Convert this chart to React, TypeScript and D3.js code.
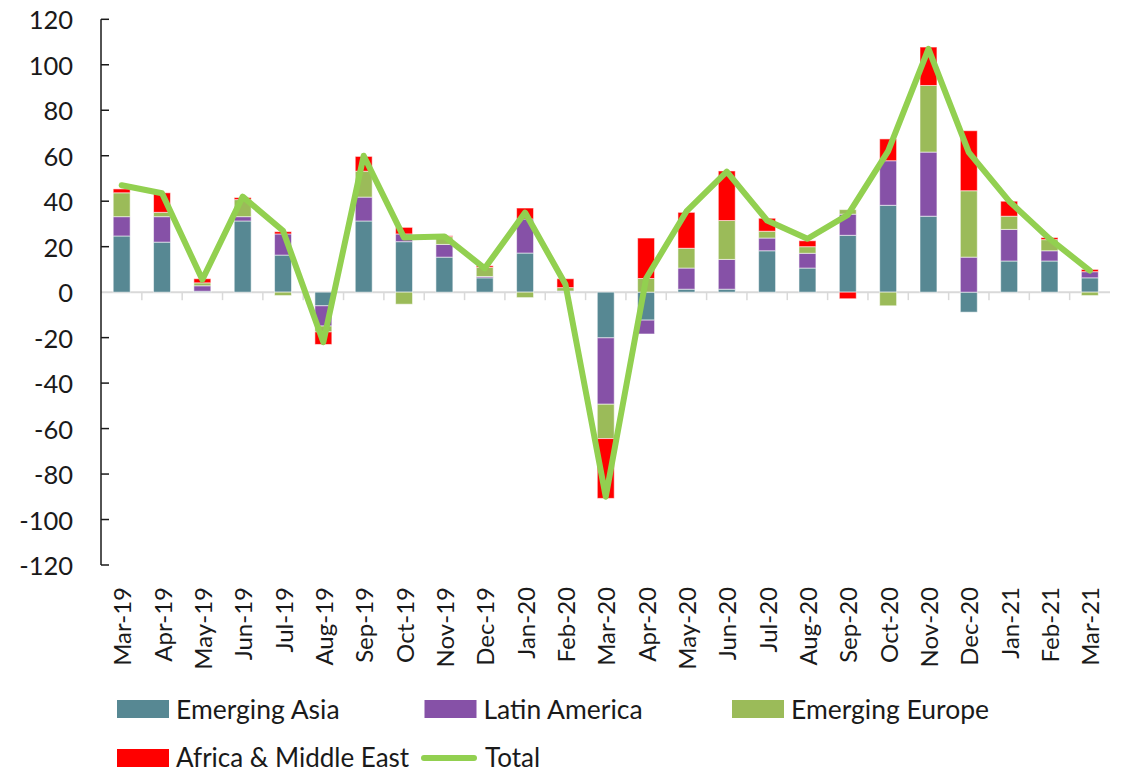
import React from "react";
import * as d3 from "d3";

// Monthly flows by region
const months = [
  "Mar-19", "Apr-19", "May-19", "Jun-19", "Jul-19", "Aug-19", "Sep-19", "Oct-19",
  "Nov-19", "Dec-19", "Jan-20", "Feb-20", "Mar-20", "Apr-20", "May-20", "Jun-20",
  "Jul-20", "Aug-20", "Sep-20", "Oct-20", "Nov-20", "Dec-20", "Jan-21", "Feb-21", "Mar-21",
];
const emergingAsia = [24.7, 22, 0.4, 31.3, 16.3, -6, 31.3, 22.2, 15.4, 6.3, 17.2, 0.3, -20.1, -12.3, 1.3, 1.3, 18.2, 10.6, 25, 38.2, 33.4, -8.8, 13.7, 13.7, 6.3];
const latinAmerica = [8.5, 11.2, 2.4, 1.9, 9.3, -8.9, 10.5, 3.4, 5.6, 0.6, 15, 0.2, -29.2, -6.1, 9.3, 13.1, 5.6, 6.5, 9.3, 19.6, 28.2, 15.4, 13.9, 4.5, 2.7];
const emergingEurope = [10.5, 1.9, 1.3, 7.5, -1.5, -2.6, 11.4, -5.3, 3.4, 4, -2.4, 1.5, -15.1, 6, 8.7, 17.1, 3, 2.9, 2, -6, 29.3, 29.2, 5.8, 4.9, -1.5];
const africaME = [1.7, 8.6, 1.8, 0.9, 1, -5.5, 6.5, 2.9, 0.4, 0.7, 4.8, 3.9, -26.3, 17.8, 15.8, 21.8, 5.7, 2.6, -2.9, 9.6, 16.9, 26.4, 6.6, 0.9, 1];
const total = [47, 43.5, 5.5, 42, 27, -22, 60, 24, 24.5, 10.5, 35, 3.5, -90, 6, 35.5, 53, 31.5, 23.5, 34, 62, 107, 61.5, 40, 23.5, 9.5];
const yTicks = [120, 100, 80, 60, 40, 20, 0, -20, -40, -60, -80, -100, -120];

const seriesKeys = ["asia", "latam", "europe", "africa"];
const seriesNames = ["Emerging Asia", "Latin America", "Emerging Europe", "Africa & Middle East"];
const seriesColors = ["#578893", "#8651a7", "#9bbb59", "#ff0000"];
const lineColor = "#92d050";

const W = 1122;
const H = 774;
const FONT = "Lato, 'Open Sans', sans-serif";

export default function App() {
  const rows = months.map((m, i) => ({
    month: m,
    asia: emergingAsia[i],
    latam: latinAmerica[i],
    europe: emergingEurope[i],
    africa: africaME[i],
  }));

  const x = d3.scaleBand().domain(months).range([101.5, 1110]).paddingInner(0.58).paddingOuter(0.29);
  const y = d3.scaleLinear().domain([-120, 120]).range([565, 19.3]);

  const stacked = d3
    .stack<any>()
    .keys(seriesKeys)
    .offset(d3.stackOffsetDiverging)(rows);

  const step = x.step();
  const x0 = x.range()[0];
  const cx = (m: string) => (x(m) as number) + x.bandwidth() / 2;

  const line = d3
    .line<number>()
    .x((_, i) => cx(months[i]))
    .y((d) => y(d));

  const legendRow1 = [0, 1, 2].map((i) => ({ i, x: 117 + i * 307.5, y: 700 }));
  const row2Y = 757;

  return (
    <svg width={W} height={H} style={{ position: "absolute", left: 0, top: 0, background: "#fff" }} fontFamily={FONT}>
      {/* zero line with category ticks */}
      <line x1={101} x2={1110} y1={y(0)} y2={y(0)} stroke="#d9d9d9" strokeWidth={2} />
      {months.map((m, i) =>
        i === 0 ? null : (
          <line
            key={"ct" + m}
            x1={x0 + step * i}
            x2={x0 + step * i}
            y1={y(0)}
            y2={y(0) + 8}
            stroke="#d9d9d9"
            strokeWidth={1.5}
          />
        )
      )}

      {/* stacked bars */}
      {stacked.map((s, si) => (
        <g key={s.key} fill={seriesColors[si]}>
          {s.map((d, i) => {
            const top = y(Math.max(d[0], d[1]));
            const bot = y(Math.min(d[0], d[1]));
            if (bot - top <= 0) return null;
            return (
              <rect
                key={i}
                x={x(months[i])}
                y={top}
                width={x.bandwidth()}
                height={bot - top}
                stroke="#ffffff"
                strokeOpacity={0.55}
                strokeWidth={1}
              />
            );
          })}
        </g>
      ))}

      {/* total line */}
      <path d={line(total) || ""} fill="none" stroke={lineColor} strokeWidth={6} strokeLinejoin="round" strokeLinecap="round" />

      {/* y axis */}
      <line x1={101} x2={101} y1={y(120)} y2={y(-120)} stroke="#1a1a1a" strokeWidth={1.5} />
      {yTicks.map((t) => (
        <g key={"yt" + t}>
          {t !== 0 && <line x1={101} x2={109} y1={y(t)} y2={y(t)} stroke="#1a1a1a" strokeWidth={1.5} />}
          <text x={73} y={y(t)} textAnchor="end" dominantBaseline="central" fontSize={25.5} fill="#1a1a1a">
            {t}
          </text>
        </g>
      ))}

      {/* category labels */}
      {months.map((m) => (
        <text
          key={"xl" + m}
          transform={`translate(${cx(m)},587) rotate(-90)`}
          textAnchor="end"
          dominantBaseline="central"
          fontSize={24}
          fill="#1a1a1a"
        >
          {m}
        </text>
      ))}

      {/* legend */}
      {legendRow1.map(({ i, x: lx, y: ly }) => (
        <g key={"lg" + i}>
          <rect x={lx} y={ly} width={52} height={18} fill={seriesColors[i]} />
          <text x={lx + 59} y={ly + 9} dominantBaseline="central" fontSize={26.5} fill="#1a1a1a">
            {seriesNames[i]}
          </text>
        </g>
      ))}
      <rect x={117} y={row2Y - 8} width={52} height={18} fill={seriesColors[3]} />
      <text x={176} y={row2Y} dominantBaseline="central" fontSize={26} fill="#1a1a1a">
        {seriesNames[3]}
      </text>
      <line x1={424} x2={474} y1={row2Y + 1} y2={row2Y + 1} stroke={lineColor} strokeWidth={6} strokeLinecap="round" />
      <text x={485} y={row2Y} dominantBaseline="central" fontSize={26} fill="#1a1a1a">
        Total
      </text>
    </svg>
  );
}
